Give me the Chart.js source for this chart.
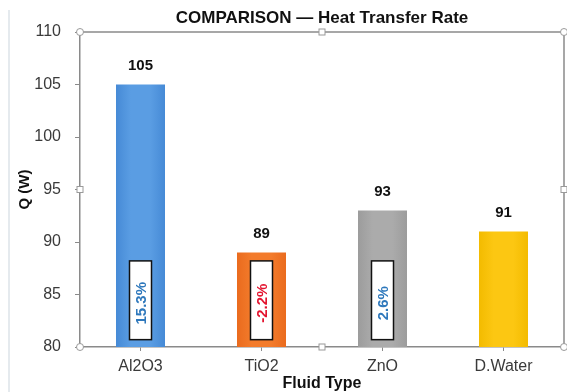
<!DOCTYPE html>
<html>
<head>
<meta charset="utf-8">
<script src="https://cdn.jsdelivr.net/npm/chart.js@4"></script>
<style>
  html, body { margin: 0; padding: 0; background: #fff; }
  #wrap { width: 567px; height: 392px; position: relative; }
</style>
</head>
<body>
<div id="wrap"><canvas id="c" width="567" height="392"></canvas></div>
<script>
// Heat transfer rate per working fluid
const categories = ['Al2O3', 'TiO2', 'ZnO', 'D.Water'];
const heatRate = [105, 89, 93, 91];
// change relative to distilled water
const changeVsWater = ['15.3%', '-2.2%', '2.6%', ''];
const yTickValues = [80, 85, 90, 95, 100, 105, 110];

const FONT = '"Liberation Sans", Arial, sans-serif';
const BAR_PCT = 0.405;
const barShades = [
  ['#468ad6', '#5a9de3'],
  ['#ea6b1e', '#f37b2b'],
  ['#9c9c9c', '#ababab'],
  ['#f3bb00', '#fcc712']
];
const changeColors = ['#2e78bc', '#e3142f', '#2e78bc', null];

// soft horizontal gradient so each bar reads like a column
function barFill(ctx) {
  const chart = ctx.chart;
  const area = chart.chartArea;
  const shade = barShades[ctx.dataIndex];
  if (!area || !chart.scales.x) return shade[1];
  const x = chart.scales.x.getPixelForValue(ctx.dataIndex);
  const w = area.width / categories.length * BAR_PCT;
  const g = chart.ctx.createLinearGradient(x - w / 2, 0, x + w / 2, 0);
  g.addColorStop(0, shade[0]);
  g.addColorStop(0.3, shade[1]);
  g.addColorStop(0.7, shade[1]);
  g.addColorStop(1, shade[0]);
  return g;
}

const decorations = {
  id: 'decorations',
  beforeDraw(chart) {
    const c = chart.ctx;
    c.save();
    c.fillStyle = '#ffffff';
    c.fillRect(0, 0, chart.width, chart.height);
    c.strokeStyle = '#dde3e8';
    c.lineWidth = 1.5;
    c.beginPath();
    c.moveTo(9, 10); c.lineTo(9, chart.height);
    c.stroke();
    c.restore();
  },
  afterDatasetsDraw(chart) {
    const c = chart.ctx;
    const area = chart.chartArea;
    const ys = chart.scales.y;
    const meta = chart.getDatasetMeta(0);
    c.save();
    // values above the bars
    c.font = 'bold 15px ' + FONT;
    c.fillStyle = '#111';
    c.textAlign = 'center';
    c.textBaseline = 'middle';
    meta.data.forEach((bar, i) => {
      c.fillText(String(heatRate[i]), bar.x, bar.y - 19);
    });
    // boxed percentage change inside the nanofluid bars
    const top = ys.getPixelForValue(88.2), bottom = ys.getPixelForValue(80.7);
    meta.data.forEach((bar, i) => {
      if (!changeVsWater[i]) return;
      const bw = 22;
      c.fillStyle = '#ffffff';
      c.fillRect(bar.x - bw / 2, top, bw, bottom - top);
      c.strokeStyle = '#111';
      c.lineWidth = 1.5;
      c.strokeRect(bar.x - bw / 2, top, bw, bottom - top);
      c.save();
      c.translate(bar.x + 1, (top + bottom) / 2 + 3);
      c.rotate(-Math.PI / 2);
      c.font = 'bold 15px ' + FONT;
      c.fillStyle = changeColors[i];
      c.fillText(changeVsWater[i], 0, 0);
      c.restore();
    });
    // top and right edges of the plot frame
    c.strokeStyle = '#8a8a8a';
    c.lineWidth = 1.5;
    c.beginPath();
    c.moveTo(area.left, area.top);
    c.lineTo(area.right, area.top);
    c.lineTo(area.right, area.bottom);
    c.stroke();
    c.restore();
  },
  afterDraw(chart) {
    const c = chart.ctx;
    const a = chart.chartArea;
    const midX = (a.left + a.right) / 2, midY = (a.top + a.bottom) / 2;
    c.save();
    // title
    c.font = 'bold 17px ' + FONT;
    c.fillStyle = '#111';
    c.textAlign = 'center';
    c.textBaseline = 'middle';
    c.fillText('COMPARISON \u2014 Heat Transfer Rate', midX, 18);
    // plot-area handles
    c.fillStyle = '#ffffff';
    c.strokeStyle = '#9a9a9a';
    c.lineWidth = 1;
    [[a.left, a.top], [a.right, a.top], [a.left, a.bottom], [a.right, a.bottom]].forEach(([x, y]) => {
      c.beginPath(); c.arc(x, y, 3.5, 0, Math.PI * 2); c.fill(); c.stroke();
    });
    [[midX, a.top], [midX, a.bottom], [a.left, midY], [a.right, midY]].forEach(([x, y]) => {
      c.fillRect(x - 3, y - 3, 6, 6); c.strokeRect(x - 3, y - 3, 6, 6);
    });
    c.restore();
  }
};

new Chart(document.getElementById('c'), {
  type: 'bar',
  data: {
    labels: categories,
    datasets: [{
      data: heatRate,
      backgroundColor: barFill,
      borderWidth: 0,
      categoryPercentage: 1,
      barPercentage: BAR_PCT
    }]
  },
  options: {
    responsive: false,
    animation: false,
    devicePixelRatio: 1,
    layout: { padding: { top: 32, right: 3, left: 0, bottom: 0 } },
    plugins: { legend: { display: false }, tooltip: { enabled: false }, title: { display: false } },
    scales: {
      x: {
        grid: { offset: false, drawOnChartArea: false, drawTicks: true, tickLength: 4, color: '#8a8a8a' },
        border: { color: '#8a8a8a', width: 1.5 },
        ticks: { color: '#3a3a3a', font: { family: FONT, size: 16 }, padding: 6 },
        title: { display: true, text: 'Fluid Type', color: '#111', font: { family: FONT, size: 16, weight: 'bold', lineHeight: 1 }, padding: 0 },
        afterFit(scale) { scale.height = 45; }
      },
      y: {
        min: 80,
        max: 110,
        afterBuildTicks(scale) { scale.ticks = yTickValues.map(v => ({ value: v })); },
        grid: { drawOnChartArea: false, drawTicks: true, tickLength: 5, color: '#8a8a8a' },
        border: { color: '#8a8a8a', width: 1.5 },
        ticks: { color: '#3a3a3a', font: { family: FONT, size: 16 }, padding: 14 },
        title: { display: true, text: 'Q (W)', color: '#111', font: { family: FONT, size: 15, weight: 'bold', lineHeight: 1 }, padding: { top: 17, bottom: 0 } },
        afterFit(scale) { scale.width = 80; }
      }
    }
  },
  plugins: [decorations]
});
</script>
</body>
</html>
